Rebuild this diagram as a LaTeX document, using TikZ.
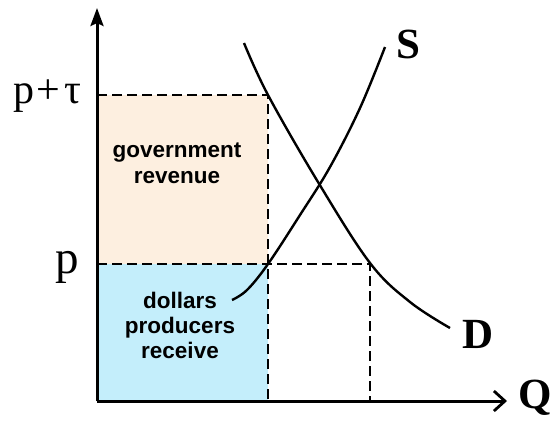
\documentclass[tikz,border=0pt]{standalone}
\usepackage{fontspec}
\setmainfont{Liberation Serif}
\setsansfont{Liberation Sans}
\usetikzlibrary{arrows.meta}
\definecolor{govfill}{RGB}{253,239,224}
\definecolor{prodfill}{RGB}{196,238,251}
\tikzset{
  axisline/.style={line width=3pt},
  guide/.style={line width=2.8pt, dash pattern=on 10pt off 5pt},
  curveline/.style={line width=2.4pt},
  areatext/.style={font=\sffamily\bfseries\fontsize{22.5}{26}\selectfont, anchor=base, inner sep=0pt},
  curvelabel/.style={font=\bfseries\fontsize{43}{46}\selectfont, anchor=base west, inner sep=0pt},
  pricelabel/.style={anchor=base west, inner sep=0pt}
}
\begin{document}
\begin{tikzpicture}[x=1pt,y=-1pt]
\useasboundingbox[fill=white] (0,0) rectangle (553,421);
% corners
\coordinate (O) at (97,401);
\coordinate (ytop) at (97,8);
\coordinate (xend) at (507,401);
\coordinate (pt) at (97,95);
\coordinate (pp) at (97,264);
\coordinate (A) at (268,95);
\coordinate (B) at (268,264);
\coordinate (Bb) at (268,401);
\coordinate (C) at (370,264);
\coordinate (Cb) at (370,401);
% areas
\fill[govfill] (pt) rectangle (B);
\fill[prodfill] (pp) rectangle (Bb);
% guides
\draw[guide] (pt) -- (A) -- (Bb);
\draw[guide] (pp) -- (C) -- (Cb);
% curves
\draw[curveline] plot[smooth, tension=0.6] coordinates {(244,43) (268,95) (318,182) (370,263) (410,302) (450,328)};
\draw[curveline] plot[smooth, tension=0.6] coordinates {(232,300) (247,290) (268,264) (300,215) (330,167) (360,108) (385,47)};
% axes
\draw[axisline, -{Stealth[length=18pt,width=13pt,inset=3pt]}] (O) -- (ytop);
\draw[axisline, -{Straight Barb[length=11pt,width=20pt,line width=2.8pt]}] (O) -- (xend);
% labels
\node[curvelabel] (S) at (396,58) {S};
\node[curvelabel] (D) at (462,348) {D};
\node[curvelabel] (Q) at (518,408) {Q};
\node[pricelabel, font=\fontsize{42}{46}\selectfont] (ptau) at (13,103) {p\kern2pt+\kern5pt τ};
\node[pricelabel, font=\fontsize{47}{50}\selectfont] (plab) at (55,273) {p};
\node[areatext] (gov1) at (177,157) {government};
\node[areatext] (gov2) at (177,183) {revenue};
\node[areatext] (dol1) at (180,308) {dollars};
\node[areatext] (dol2) at (180,333) {producers};
\node[areatext] (dol3) at (180,358) {receive};
\end{tikzpicture}
\end{document}
